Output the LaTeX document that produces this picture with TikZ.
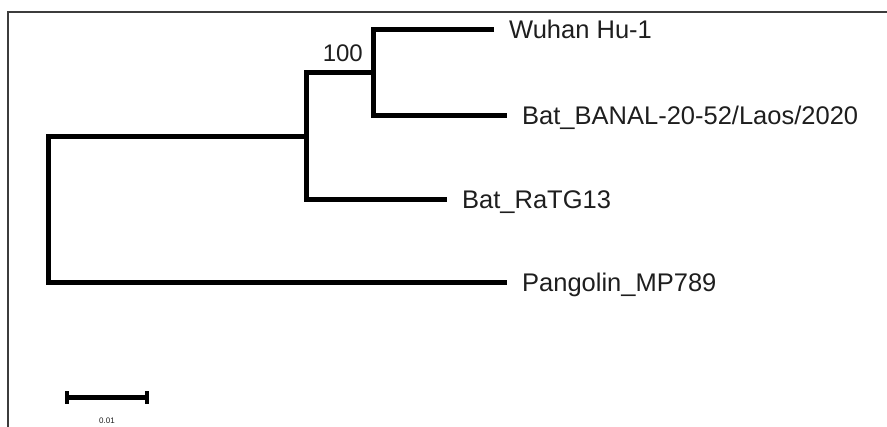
\documentclass[tikz,border=0pt]{standalone}
\usepackage{fontspec}
\setmainfont{Liberation Sans}
\definecolor{inkgray}{HTML}{1E1E1E}
\definecolor{framegray}{HTML}{3C3C3C}
\begin{document}
\begin{tikzpicture}[x=1pt,y=-1pt,
  branch/.style={line width=5pt, line join=miter},
  framerule/.style={line width=1.5pt, draw=framegray},
  taxon/.style={anchor=west, inner xsep=15pt, inner ysep=0pt,
    text height=18pt, text depth=0pt, text=inkgray,
    font=\fontsize{25.5}{30}\selectfont},
  support/.style={anchor=base east, inner sep=0pt, text=inkgray,
    font=\fontsize{24}{28}\selectfont},
  scalelabel/.style={inner sep=0pt, text=inkgray,
    font=\fontsize{8}{9}\selectfont}]
\useasboundingbox (0,0) rectangle (887,427);

% panel frame (top and left edges)
\draw[framerule] (887,12) -- (8,12) -- (8,427);

% internal nodes
\coordinate (root) at (48,210);
\coordinate (n1) at (306,137);
\coordinate (n2) at (373,73);

% tip labels
\node[taxon] (wuhan) at (494,30) {Wuhan Hu-1};
\node[taxon] (banal) at (507,116) {Bat\_BANAL-20-52/Laos/2020};
\node[taxon] (ratg) at (447,200) {Bat\_RaTG13};
\node[taxon] (pang) at (507,283) {Pangolin\_MP789};

% branches
\draw[branch] (wuhan.west) -| (n2) |- (banal.west);
\draw[branch] (n2) -| (n1) |- (ratg.west);
\draw[branch] (n1) -| (root) |- (pang.west);

% bootstrap support
\node[support, xshift=-10pt, yshift=11pt] (boot) at (n2) {100};

% scale bar
\coordinate (sbl) at (67,398);
\coordinate (sbr) at (147,398);
\draw[branch] (sbl) -- (sbr);
\draw[line width=3.5pt] ([yshift=6.5pt]sbl) -- ([yshift=-6.5pt]sbl);
\draw[line width=3.5pt] ([yshift=6.5pt]sbr) -- ([yshift=-6.5pt]sbr);
\node[scalelabel] (sblab) at (107,421) {0.01};
\end{tikzpicture}
\end{document}
